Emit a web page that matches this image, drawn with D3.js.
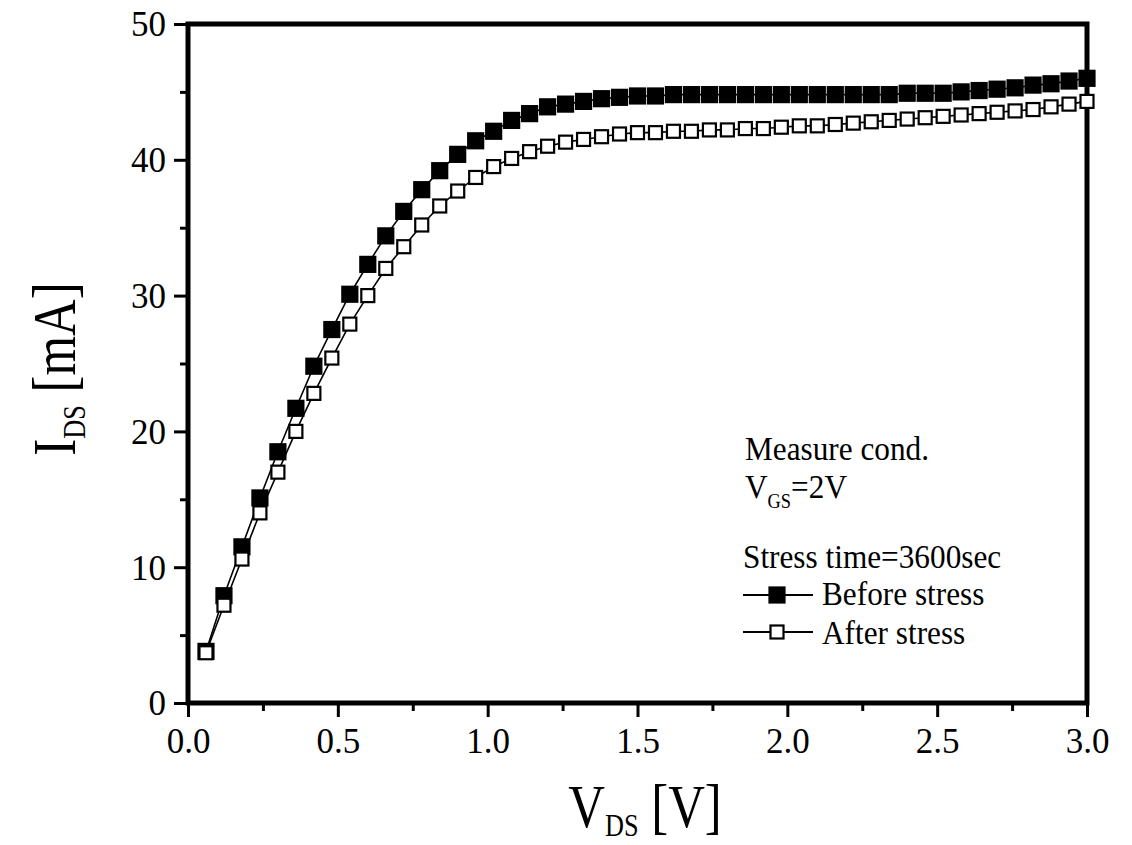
<html>
<head>
<meta charset="UTF-8">
<title>IDS vs VDS stress</title>
<script src="https://d3js.org/d3.v7.min.js"></script>
<style>
  body { margin: 0; background: #fff; }
  text { font-family: "Liberation Serif", "Times New Roman", serif; fill: #000; }
</style>
</head>
<body>
<svg id="chart" width="1132" height="845"></svg>
<script>
// data
const vds = [0.06, 0.12, 0.18, 0.24, 0.30, 0.36, 0.42, 0.48, 0.54, 0.60,
             0.66, 0.72, 0.78, 0.84, 0.90, 0.96, 1.02, 1.08, 1.14, 1.20,
             1.26, 1.32, 1.38, 1.44, 1.50, 1.56, 1.62, 1.68, 1.74, 1.80,
             1.86, 1.92, 1.98, 2.04, 2.10, 2.16, 2.22, 2.28, 2.34, 2.40,
             2.46, 2.52, 2.58, 2.64, 2.70, 2.76, 2.82, 2.88, 2.94, 3.00];
const beforeStress = [3.8, 7.9, 11.5, 15.1, 18.5, 21.7, 24.8, 27.5, 30.1, 32.3,
                      34.4, 36.2, 37.8, 39.2, 40.4, 41.4, 42.1, 42.9, 43.4, 43.9,
                      44.1, 44.3, 44.5, 44.6, 44.7, 44.7, 44.8, 44.8, 44.8, 44.8,
                      44.8, 44.8, 44.8, 44.8, 44.8, 44.8, 44.8, 44.8, 44.8, 44.9,
                      44.9, 44.9, 45.0, 45.1, 45.2, 45.3, 45.5, 45.6, 45.8, 46.0];
const afterStress = [3.7, 7.2, 10.6, 14.0, 17.0, 20.0, 22.8, 25.4, 27.9, 30.0,
                     32.0, 33.6, 35.2, 36.6, 37.7, 38.7, 39.5, 40.1, 40.6, 41.0,
                     41.3, 41.5, 41.7, 41.9, 42.0, 42.0, 42.1, 42.1, 42.2, 42.2,
                     42.3, 42.3, 42.4, 42.5, 42.5, 42.6, 42.7, 42.8, 42.9, 43.0,
                     43.1, 43.2, 43.3, 43.4, 43.5, 43.6, 43.7, 43.9, 44.1, 44.3];
const xTicks = [0, 0.5, 1.0, 1.5, 2.0, 2.5, 3.0];
const xMinorTicks = [0.25, 0.75, 1.25, 1.75, 2.25, 2.75];
const yTicks = [0, 10, 20, 30, 40, 50];
const yMinorTicks = [5, 15, 25, 35, 45];

const svg = d3.select('svg#chart');
const plotLeft = 188, plotRight = 1087, plotTop = 24, plotBottom = 703;

const x = d3.scaleLinear().domain([0, 3]).range([plotLeft, plotRight]);
const y = d3.scaleLinear().domain([0, 50]).range([plotBottom, plotTop]);

// minor ticks
svg.append('g')
  .attr('transform', `translate(0,${plotBottom})`)
  .call(d3.axisBottom(x).tickValues(xMinorTicks).tickSize(8).tickFormat(''))
  .call(g => g.select('.domain').remove());
svg.append('g')
  .attr('transform', `translate(${plotLeft},0)`)
  .call(d3.axisLeft(y).tickValues(yMinorTicks).tickSize(8).tickFormat(''))
  .call(g => g.select('.domain').remove());

// major ticks + labels
const xAxis = svg.append('g')
  .attr('transform', `translate(0,${plotBottom})`)
  .call(d3.axisBottom(x).tickValues(xTicks).tickSize(14).tickFormat(d3.format('.1f')));
xAxis.select('.domain').remove();
xAxis.selectAll('text').attr('y', 50).attr('dy', 0)
  .style('font-size', '35px').style('font-family', '"Liberation Serif", serif');

const yAxis = svg.append('g')
  .attr('transform', `translate(${plotLeft},0)`)
  .call(d3.axisLeft(y).tickValues(yTicks).tickSize(14).tickFormat(d3.format('d')));
yAxis.select('.domain').remove();
yAxis.selectAll('text').attr('x', -22).attr('dy', '0.34em')
  .style('font-size', '35px').style('font-family', '"Liberation Serif", serif');

svg.selectAll('.tick line').attr('stroke', '#000').attr('stroke-width', 3);

// frame
svg.append('rect')
  .attr('x', plotLeft).attr('y', plotTop)
  .attr('width', plotRight - plotLeft).attr('height', plotBottom - plotTop)
  .attr('fill', 'none').attr('stroke', '#000').attr('stroke-width', 5);

// series
const line = d3.line().x((d, i) => x(vds[i])).y(d => y(d));
const series = [
  {vals: beforeStress, fill: '#000', size: 15},
  {vals: afterStress, fill: '#fff', size: 13}
];
series.forEach(s => {
  svg.append('path')
    .attr('d', line(s.vals))
    .attr('fill', 'none').attr('stroke', '#000').attr('stroke-width', 1.6);
  svg.append('g').selectAll('rect')
    .data(s.vals)
    .enter()
    .append('rect')
    .attr('x', (d, i) => x(vds[i]) - s.size / 2)
    .attr('y', d => y(d) - s.size / 2)
    .attr('width', s.size).attr('height', s.size)
    .attr('fill', s.fill).attr('stroke', '#000').attr('stroke-width', 2.2);
});

// text with subscripts, optionally condensed horizontally
function label(tx, ty, parts, size, subSize, subShift, sx, rot, anchor) {
  const t = svg.append('text')
    .attr('transform', `translate(${tx},${ty})` + (rot ? ` rotate(${rot})` : '') + ` scale(${sx},1)`)
    .attr('text-anchor', anchor || 'start')
    .style('font-size', size + 'px');
  let shift = 0;
  parts.forEach(p => {
    const want = p.sub ? subShift : 0;
    t.append('tspan').attr('dy', want - shift)
      .style('font-size', (p.sub ? subSize : size) + 'px')
      .text(p.t);
    shift = want;
  });
  return t;
}

// axis titles
label(645, 827, [{t: 'V'}, {t: 'DS', sub: true}, {t: ' [V]'}], 62, 32, 9, 0.82, 0, 'middle');
label(75, 369, [{t: 'I'}, {t: 'DS', sub: true}, {t: ' [mA]'}], 62, 32, 10, 0.82, -90, 'middle');

// legend
label(745, 460, [{t: 'Measure cond.'}], 34, 20, 0, 0.92);
label(745, 498, [{t: 'V'}, {t: 'GS', sub: true}, {t: '=2V'}], 34, 20, 10, 0.92);
label(743, 568, [{t: 'Stress time=3600sec'}], 34, 20, 0, 0.92);
label(822, 605, [{t: 'Before stress'}], 34, 20, 0, 0.92);
label(822, 644, [{t: 'After stress'}], 34, 20, 0, 0.92);

const legendRows = [
  {yy: 595, fill: '#000', size: 15},
  {yy: 632, fill: '#fff', size: 13}
];
legendRows.forEach(r => {
  svg.append('line')
    .attr('x1', 743).attr('x2', 813).attr('y1', r.yy).attr('y2', r.yy)
    .attr('stroke', '#000').attr('stroke-width', 2);
  svg.append('rect')
    .attr('x', 777 - r.size / 2).attr('y', r.yy - r.size / 2)
    .attr('width', r.size).attr('height', r.size)
    .attr('fill', r.fill).attr('stroke', '#000').attr('stroke-width', 2.2);
});
</script>
</body>
</html>
